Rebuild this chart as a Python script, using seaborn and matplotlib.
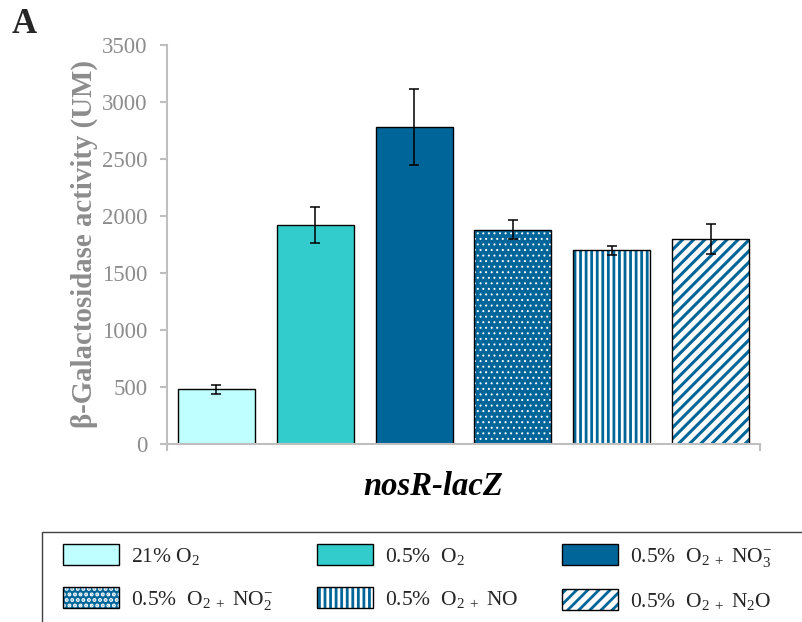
import numpy as np
import pandas as pd
import matplotlib
matplotlib.use("Agg")
import matplotlib.pyplot as plt
import seaborn as sns
from matplotlib.patches import Patch, Rectangle
from matplotlib.legend_handler import HandlerTuple

# ---------------- data ----------------
conditions = ["21% O2", "0.5% O2", "0.5% O2 + NO3-", "0.5% O2 + NO2-", "0.5% O2 + NO", "0.5% O2 + N2O"]
legend_labels = [r"21% O$_2$", r"0.5%  O$_2$", r"0.5%  O$_{2\ +}$ NO$_3^{-}$",
                 r"0.5%  O$_{2\ +}$ NO$_2^{-}$", r"0.5%  O$_{2\ +}$ NO", r"0.5%  O$_{2\ +}$ N$_2$O"]
activity = [480, 1920, 2780, 1880, 1700, 1800]
errors = [40, 160, 330, 85, 40, 130]
yticks = [0, 500, 1000, 1500, 2000, 2500, 3000, 3500]

face_colors = ["#BFFFFF", "#33CCCC", "#006699", "#006699", "white", "white"]
hatch_colors = [None, None, None, "white", "#006699", "#006699"]
hatches = [None, None, None, "...", "|||", "///"]
hatch_widths = [None, None, None, 0.7, 2.0, 2.2]

# ---------------- style ----------------
sns.set_style("white")
plt.rcParams["font.family"] = ["Liberation Serif", "DejaVu Serif"]
plt.rcParams["mathtext.fontset"] = "custom"
plt.rcParams["mathtext.rm"] = "Liberation Serif"
plt.rcParams["mathtext.it"] = "Liberation Serif:italic"
plt.rcParams["mathtext.bf"] = "Liberation Serif:bold"
plt.rcParams["mathtext.default"] = "regular"
plt.rcParams["hatch.linewidth"] = 2.0

GRAY_TXT = "#8c8c8c"
GRAY_AX = "#bfbfbf"


def set_hlw(p, lw):
    if lw is not None and hasattr(p, "set_hatch_linewidth"):
        p.set_hatch_linewidth(lw)


df = pd.DataFrame({"condition": conditions, "activity": activity})

fig = plt.figure(figsize=(8.02, 6.22), dpi=100)
ax = fig.add_axes([167 / 802, 1 - 444 / 622, (760 - 167) / 802, (444 - 45) / 622])

sns.barplot(data=df, x="condition", y="activity", hue="condition",
            palette=dict(zip(conditions, face_colors)), order=conditions,
            hue_order=conditions, width=0.78, errorbar=None, legend=False,
            saturation=1, edgecolor="black", linewidth=1.0, ax=ax)

bars = [c[0] for c in ax.containers]
for bar, hc, h, hw in zip(bars, hatch_colors, hatches, hatch_widths):
    if h is not None:
        bar.set_edgecolor(hc)
        bar.set_hatch(h)
        set_hlw(bar, hw)
        bar.set_linewidth(0)
        outline = Rectangle((bar.get_x(), bar.get_y()), bar.get_width(), bar.get_height(),
                            facecolor="none", edgecolor="black", linewidth=1.0,
                            zorder=bar.get_zorder() + 0.1)
        ax.add_patch(outline)

xpos = [bar.get_x() + bar.get_width() / 2 for bar in bars]
ax.errorbar(xpos, activity, yerr=errors, fmt="none", ecolor="black",
            elinewidth=1.1, capsize=3.3, capthick=1.1, zorder=5)

# axes styling
ax.set_xlim(-0.5, len(conditions) - 0.5)
ax.set_ylim(0, 3500)
ax.set_yticks(yticks)
ax.set_yticklabels([str(v) for v in yticks])
ax.set_xticks([-0.5, len(conditions) - 0.5])
ax.set_xticklabels(["", ""])
for s in ["top", "right"]:
    ax.spines[s].set_visible(False)
for s in ["left", "bottom"]:
    ax.spines[s].set_color(GRAY_AX)
    ax.spines[s].set_linewidth(1.5)
ax.tick_params(axis="y", direction="out", length=5, width=1.5, color=GRAY_AX,
               labelcolor=GRAY_TXT, labelsize=16.5, pad=9, left=True)
ax.tick_params(axis="x", direction="out", length=5, width=1.5, color=GRAY_AX, bottom=True)

ax.set_ylabel("β-Galactosidase activity (UM)", fontsize=20.8, fontweight="bold",
              color=GRAY_TXT, labelpad=3)
ax.set_xlabel("nosR-lacZ", fontsize=23.5, fontweight="bold", fontstyle="italic", color="black")
ax.xaxis.set_label_coords((433 - 167) / 593, (444 - 471) / 399)

fig.text(12 / 802, 1 - 8 / 622, "A", fontsize=25, fontweight="bold", va="top", ha="left")

# legend
handles = []
for fc, hc, h, hw in zip(face_colors, hatch_colors, hatches, hatch_widths):
    if h is None:
        handles.append(Patch(facecolor=fc, edgecolor="black", linewidth=1.0))
    else:
        hp = Patch(facecolor=fc, edgecolor=hc, hatch=h, linewidth=0)
        set_hlw(hp, hw)
        handles.append((hp, Patch(facecolor="none", edgecolor="black", linewidth=1.0)))
order = [0, 3, 1, 4, 2, 5]
leg = fig.legend([handles[i] for i in order], [legend_labels[i] for i in order],
                 ncol=3, mode="expand", loc="upper left",
                 bbox_to_anchor=(63 / 802, 1 - 544 / 622, (772 - 63) / 802, 0.0),
                 frameon=False, fontsize=15.5, handlelength=2.6, handleheight=1.12,
                 handletextpad=0.55, labelspacing=0.96, borderpad=0, borderaxespad=0,
                 handler_map={tuple: HandlerTuple(ndivide=1, pad=0)})
box = Rectangle((42 / 802, -0.05), 1.0, (622 - 532) / 622 + 0.05, transform=fig.transFigure,
                facecolor="none", edgecolor="#404040", linewidth=1.0, clip_on=False)
fig.add_artist(box)

fig.savefig("out.png", dpi=100)
